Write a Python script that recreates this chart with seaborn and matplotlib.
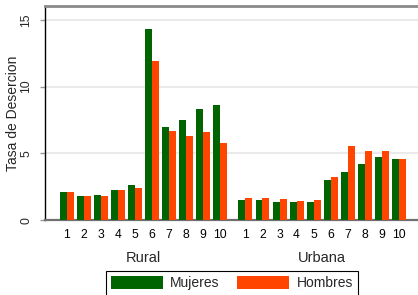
import matplotlib
matplotlib.use("Agg")
import matplotlib.pyplot as plt
import seaborn as sns
import pandas as pd
from matplotlib.transforms import blended_transform_factory

# ---- data ----
grados = [1, 2, 3, 4, 5, 6, 7, 8, 9, 10]
zonas = ["Rural", "Urbana"]
series = ["Mujeres", "Hombres"]
rural_mujeres = [2.1, 1.85, 1.9, 2.3, 2.65, 14.3, 6.95, 7.5, 8.3, 8.65]
rural_hombres = [2.1, 1.85, 1.85, 2.3, 2.4, 11.9, 6.7, 6.3, 6.6, 5.75]
urbana_mujeres = [1.55, 1.5, 1.4, 1.35, 1.35, 3.0, 3.65, 4.2, 4.7, 4.6]
urbana_hombres = [1.7, 1.7, 1.6, 1.45, 1.55, 3.25, 5.55, 5.15, 5.15, 4.55]
y_ticks = [0, 5, 10, 15]

# ---- layout helpers (positions, not data) ----
group_offset = {"Rural": 0.0, "Urbana": 10.5}

rows = []
for zona, muj, hom in [("Rural", rural_mujeres, rural_hombres),
                       ("Urbana", urbana_mujeres, urbana_hombres)]:
    for i, g in enumerate(grados):
        pos = group_offset[zona] + i
        rows.append(dict(zona=zona, grado=g, pos=pos, sexo="Mujeres", tasa=muj[i]))
        rows.append(dict(zona=zona, grado=g, pos=pos, sexo="Hombres", tasa=hom[i]))
df = pd.DataFrame(rows)

sns.set_style("white")
plt.rcParams["font.family"] = ["Liberation Sans", "DejaVu Sans"]

W, H = 418, 295
fig = plt.figure(figsize=(W / 100, H / 100), dpi=100)
ax_left, ax_right, ax_top, ax_bottom = 45, 418, 6, 220.3
ax = fig.add_axes([ax_left / W, 1 - ax_bottom / H, (ax_right - ax_left) / W, (ax_bottom - ax_top) / H])

palette = {"Mujeres": "#006400", "Hombres": "#FF4500"}
sns.barplot(data=df, x="pos", y="tasa", hue="sexo", hue_order=series,
            native_scale=True, palette=palette, saturation=1, width=0.82,
            linewidth=0, errorbar=None, ax=ax, zorder=3)

handles, labels = ax.get_legend_handles_labels()
if ax.get_legend() is not None:
    ax.get_legend().remove()

ax.set_ylim(0, 16.03)
ax.set_xlim(-1.27, 20.63)
ax.set_yticks(y_ticks)
ax.set_yticklabels([str(t) for t in y_ticks], rotation=90, va="center")

xt = [group_offset[z] + i for z in zonas for i in range(len(grados))]
ax.set_xticks(xt)
ax.set_xticklabels([str(g) for z in zonas for g in grados])

ax.tick_params(axis="x", length=0, pad=6.5, labelsize=8.7, colors="black")
ax.tick_params(axis="y", length=3.6, width=1, color="#9a9a9a", pad=5.5, labelsize=8.7, left=True)

for t in y_ticks[1:]:
    ax.axhline(t, color="#e8e8e8", lw=1.3, zorder=1)

ax.spines["left"].set_color("black")
ax.spines["left"].set_linewidth(1.0)
ax.spines["bottom"].set_color("#707070")
ax.spines["bottom"].set_linewidth(1.6)
ax.spines["top"].set_color("#8a8a8a")
ax.spines["top"].set_linewidth(2.0)
ax.spines["right"].set_visible(False)

ax.set_xlabel("")
ax.set_ylabel("Tasa de Desercion", fontsize=10, va="center", rotation_mode="anchor")
ax.yaxis.set_label_coords((13 - ax_left) / (ax_right - ax_left), 0.5)

# group labels
tr = blended_transform_factory(ax.transData, fig.transFigure)
for z in zonas:
    ax.text(group_offset[z] + 4.5, 1 - 258 / H, z, transform=tr, ha="center", va="center",
            fontsize=10.5)

leg = fig.legend(handles, labels, loc="upper center", bbox_to_anchor=(232 / W, 1 - 270.7 / H),
                 ncol=2, frameon=True, fancybox=False, edgecolor="black", framealpha=1,
                 fontsize=10, handlelength=3.75, handleheight=1.0, handletextpad=0.5,
                 columnspacing=1.27, borderpad=0.4, borderaxespad=0)
leg.get_frame().set_linewidth(0.8)

fig.savefig("out.png", dpi=100)
